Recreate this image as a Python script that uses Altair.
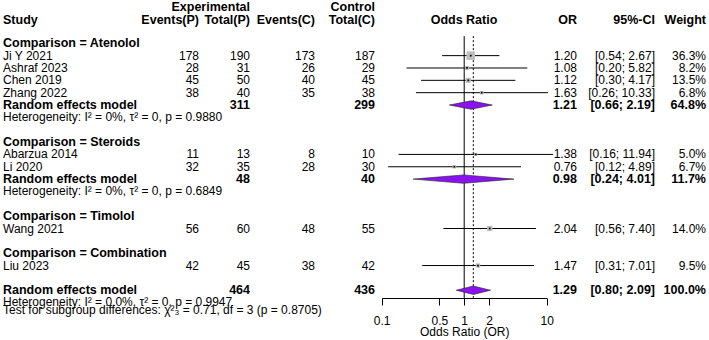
import altair as alt
import pandas as pd

# ---- data -------------------------------------------------------------
# row index on the page grid (one unit = one text line)
rows = [0, 1, 2, 3, 4, 5, 6, 8, 9, 10, 11, 12, 14, 15, 17, 18, 20, 20.95, 21.56]
kind = ["group", "study", "study", "study", "study", "re", "het",
        "group", "study", "study", "re", "het",
        "group", "study",
        "group", "study",
        "re", "het", "het"]
label = [
    "Comparison = Atenolol", "Ji Y 2021", "Ashraf 2023", "Chen 2019", "Zhang 2022",
    "Random effects model", "Heterogeneity: I² = 0%, τ² = 0, p = 0.9880",
    "Comparison = Steroids", "Abarzua 2014", "Li 2020",
    "Random effects model", "Heterogeneity: I² = 0%, τ² = 0, p = 0.6849",
    "Comparison = Timolol", "Wang 2021",
    "Comparison = Combination", "Liu 2023",
    "Random effects model", "Heterogeneity: I² = 0.0%, τ² = 0, p = 0.9947",
    "Test for subgroup differences: χ²₃ = 0.71, df = 3 (p = 0.8705)",
]
events_p = ["", "178", "28", "45", "38", "", "", "", "11", "32", "", "", "", "56", "", "42", "", "", ""]
total_p = ["", "190", "31", "50", "40", "311", "", "", "13", "35", "48", "", "", "60", "", "45", "464", "", ""]
events_c = ["", "173", "26", "40", "35", "", "", "", "8", "28", "", "", "", "48", "", "38", "", "", ""]
total_c = ["", "187", "29", "45", "38", "299", "", "", "10", "30", "40", "", "", "55", "", "42", "436", "", ""]
or_est = [None, 1.20, 1.08, 1.12, 1.63, 1.21, None, None, 1.38, 0.76, 0.98, None,
          None, 2.04, None, 1.47, 1.29, None, None]
or_low = [None, 0.54, 0.20, 0.30, 0.26, 0.66, None, None, 0.16, 0.12, 0.24, None,
          None, 0.56, None, 0.31, 0.80, None, None]
or_up = [None, 2.67, 5.82, 4.17, 10.33, 2.19, None, None, 11.94, 4.89, 4.01, None,
         None, 7.40, None, 7.01, 2.09, None, None]
weight = [None, 36.3, 8.2, 13.5, 6.8, 64.8, None, None, 5.0, 6.7, 11.7, None,
          None, 14.0, None, 9.5, 100.0, None, None]

header_row = -1.9
super_row = -2.9
axis_ticks = [0.1, 0.5, 1, 2, 10]
null_value = 1.0
pooled_value = 1.29

FONT = "Liberation Sans"
FS = 12         # regular text
FS_BOLD = 12.5  # bold text
FS_HET = 12     # heterogeneity lines

# ---- tables -----------------------------------------------------------
df = pd.DataFrame({
    "row": rows, "kind": kind, "label": label,
    "ev_p": events_p, "tot_p": total_p, "ev_c": events_c, "tot_c": total_c,
    "est": or_est, "low": or_low, "up": or_up, "w": weight,
})
df["bold"] = df["kind"].isin(["group", "re"])


def fmt_ci(lo, hi):
    if lo is None or pd.isna(lo):
        return ""
    return "[" + f"{lo:.2f};" + " " + f"{hi:5.2f}".replace(" ", "  ") + "]"


df["or_txt"] = [f"{v:.2f}" if pd.notna(v) else "" for v in df["est"]]
df["ci_txt"] = [fmt_ci(lo, hi) for lo, hi in zip(df["low"], df["up"])]
df["w_txt"] = [f"{v:.1f}%" if pd.notna(v) else "" for v in df["w"]]

studies = df[df["kind"] == "study"].copy()
pooled = df[df["kind"] == "re"].copy()

# diamond outline points: lower tip, top, upper tip, bottom (as an area band)
DH = 0.34  # half height of a diamond in row units
dia = []
for i, r in pooled.iterrows():
    dia.append({"g": i, "x": r["low"], "y": r["row"], "y2": r["row"]})
    dia.append({"g": i, "x": r["est"], "y": r["row"] - DH, "y2": r["row"] + DH})
    dia.append({"g": i, "x": r["up"], "y": r["row"], "y2": r["row"]})
dia = pd.DataFrame(dia)

headers = pd.DataFrame({
    "txt": ["Study", "Events(P)", "Total(P)", "Events(C)", "Total(C)",
            "Odds Ratio", "OR", "95%-CI", "Weight", "Experimental", "Control"],
    "col": ["study", "ev_p", "tot_p", "ev_c", "tot_c",
            "plot", "or", "ci", "w", "tot_p", "tot_c"],
    "row": [header_row] * 9 + [super_row] * 2,
})

# ---- scales -----------------------------------------------------------
YS = alt.Scale(domain=[-3.506, 24.03], range=[0, 340])
Y = alt.Y("row:Q", scale=YS, axis=None)
XS = alt.Scale(type="log", domain=[0.1, 10], range=[381.7, 546.7])

# column anchors (pixel x, alignment)
cols = {
    "study": (3, "left"),
    "ev_p": (199, "right"),
    "tot_p": (250, "right"),
    "ev_c": (315, "right"),
    "tot_c": (375, "right"),
    "plot": (464, "center"),
    "or": (577, "right"),
    "ci": (655, "right"),
    "w": (706, "right"),
}

layers = []

# text columns (empty cells are skipped)
field_of = {"study": "label", "ev_p": "ev_p", "tot_p": "tot_p", "ev_c": "ev_c",
            "tot_c": "tot_c", "or": "or_txt", "ci": "ci_txt", "w": "w_txt"}
for c, f in field_of.items():
    xpx, al = cols[c]
    for b in (False, True):
        src = df[(df["bold"] == b) & (df["kind"] != "het") & (df[f] != "")]
        if len(src) == 0:
            continue
        layers.append(
            alt.Chart(src[["row", f]]).mark_text(
                align=al, baseline="middle", font=FONT,
                fontSize=FS_BOLD if b else FS,
                fontWeight="bold" if b else "normal", color="black",
            ).encode(x=alt.value(xpx), y=Y, text=alt.Text(f"{f}:N"))
        )

# heterogeneity lines
layers.append(
    alt.Chart(df[df["kind"] == "het"][["row", "label"]]).mark_text(
        align="left", baseline="middle", font=FONT, fontSize=FS_HET, color="black"
    ).encode(x=alt.value(3), y=Y, text="label:N")
)

# header texts
for c, (xpx, al) in cols.items():
    sub = headers[headers["col"] == c]
    if len(sub) == 0:
        continue
    layers.append(
        alt.Chart(sub).mark_text(
            align=al, baseline="middle", font=FONT, fontSize=FS_BOLD,
            fontWeight="bold", color="black",
        ).encode(x=alt.value(xpx), y=Y, text="txt:N")
    )

# reference lines: no effect (solid) and pooled estimate (dotted)
ref = pd.DataFrame({"v": [null_value, pooled_value], "top": [-0.58, -0.58],
                    "bot": [20.62, 20.62], "kind": ["null", "pooled"]})
layers.append(
    alt.Chart(ref[ref["kind"] == "null"]).mark_rule(color="black", strokeWidth=1).encode(
        x=alt.X("v:Q", scale=XS, axis=alt.Axis(
            values=axis_ticks, format="~g", offset=-42, grid=False,
            domainColor="black", tickColor="black", tickSize=7, domainWidth=1,
            labelFont=FONT, labelFontSize=12, labelColor="black", labelPadding=10,
            labelFlush=False, labelOverlap=False,
            title="Odds Ratio (OR)", titleFont=FONT, titleFontSize=12,
            titleFontWeight="normal", titleColor="black", titleY=33,
            titleBaseline="middle",
        )),
        y=Y, y2="bot:Q",
    ).transform_calculate(row="datum.top")
)
layers.append(
    alt.Chart(ref[ref["kind"] == "pooled"]).mark_rule(
        color="black", strokeWidth=1, strokeDash=[2, 2]
    ).encode(x=alt.X("v:Q", scale=XS), y=Y, y2="bot:Q").transform_calculate(row="datum.top")
)

# confidence intervals of single studies
layers.append(
    alt.Chart(studies).mark_rule(color="black", strokeWidth=1).encode(
        x=alt.X("low:Q", scale=XS), x2="up:Q", y=Y
    )
)
# weight squares
layers.append(
    alt.Chart(studies).mark_square(color="#BEBEBE", opacity=1).encode(
        x=alt.X("est:Q", scale=XS), y=Y,
        size=alt.Size("w:Q", scale=alt.Scale(domain=[0, 36.3], range=[0, 72]), legend=None),
    )
)
# point estimate marker
layers.append(
    alt.Chart(studies).mark_square(color="black", size=3, opacity=1).encode(
        x=alt.X("est:Q", scale=XS), y=Y
    )
)
# pooled diamonds
layers.append(
    alt.Chart(dia).mark_area(color="#8A12F0", stroke="#222222", strokeWidth=0.6,
                             opacity=1, interpolate="linear").encode(
        x=alt.X("x:Q", scale=XS),
        y=alt.Y("y:Q", scale=YS, axis=None),
        y2="y2:Q",
        detail="g:N",
    )
)

chart = alt.layer(*layers).properties(
    width=709, height=340, padding=0, autosize=alt.AutoSizeParams(type="none"),
    background="white",
).configure_view(stroke=None)

chart.save("out.html", embed_options={"renderer": "svg", "actions": False})
